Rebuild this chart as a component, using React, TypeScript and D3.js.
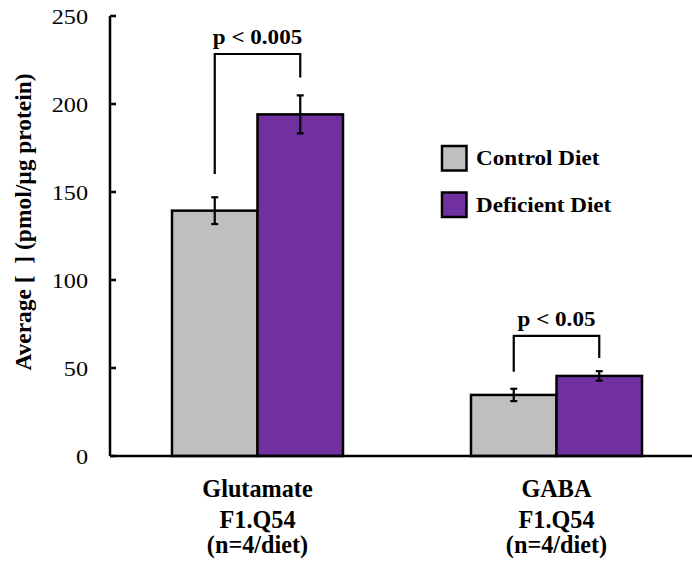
import React from "react";
import * as d3 from "d3";

// Amino-acid groups shown on the x axis
const categories = ["Glutamate", "GABA"];
const categorySub1 = ["F1.Q54", "F1.Q54"];
const categorySub2 = ["(n=4/diet)", "(n=4/diet)"];

// Series: mean concentration and its error (pmol/µg protein)
const seriesNames = ["Control Diet", "Deficient Diet"];
const seriesColors = ["#bfbfbf", "#7030a0"];
const controlMeans = [139.4, 34.7];
const controlErrors = [7.6, 3.5];
const deficientMeans = [194.1, 45.5];
const deficientErrors = [10.8, 2.7];

// Significance brackets: label, bar level, left/right leg ends (data units)
const sigLabels = ["p < 0.005", "p < 0.05"];
const sigTop = [228.4, 68.2];
const sigLeftEnd = [160.2, 47.9];
const sigRightEnd = [215, 55.7];

const yTicks = [0, 50, 100, 150, 200, 250];

const W = 692;
const H = 563;
const FONT = "Liberation Serif, Times New Roman, serif";

function T({ x, y, children, size = 21, weight = "bold", anchor = "middle", rotate = 0, sx = 1.1 }: any) {
  return (
    <text
      transform={`translate(${x},${y}) rotate(${rotate}) scale(${sx},1)`}
      style={{ fontFamily: FONT, fontSize: size, fontWeight: weight, whiteSpace: "pre" }}
      textAnchor={anchor}
      fill="#000"
    >
      {children}
    </text>
  );
}

export default function App() {
  const x = d3.scaleBand<string>().domain(categories).range([108, 706]).padding(0);
  const y = d3.scaleLinear().domain([0, 250]).range([456, 16]);
  const barW = 85.5;
  const axisX = 110;

  const series = [
    { means: controlMeans, errs: controlErrors, color: seriesColors[0], off: -barW },
    { means: deficientMeans, errs: deficientErrors, color: seriesColors[1], off: 0 },
  ];

  return (
    <svg width={W} height={H} style={{ position: "absolute", left: 0, top: 0, background: "#fff" }}>
      {/* bars */}
      {series.map((s, si) =>
        categories.map((c, i) => {
          const cx = (x(c) as number) + x.bandwidth() / 2;
          const bx = cx + s.off;
          return (
            <rect
              key={`b${si}-${i}`}
              x={bx}
              y={y(s.means[i])}
              width={barW}
              height={y(0) - y(s.means[i])}
              fill={s.color}
              stroke="#000"
              strokeWidth={2.5}
            />
          );
        })
      )}
      {/* error bars */}
      {series.map((s, si) =>
        categories.map((c, i) => {
          const cx = (x(c) as number) + x.bandwidth() / 2 + s.off + barW / 2;
          const hi = y(s.means[i] + s.errs[i]);
          const lo = y(s.means[i] - s.errs[i]);
          const cap = 3.5;
          return (
            <g key={`e${si}-${i}`} stroke="#000" strokeWidth={2.2}>
              <line x1={cx} x2={cx} y1={hi} y2={lo} />
              <line x1={cx - cap} x2={cx + cap} y1={hi} y2={hi} />
              <line x1={cx - cap} x2={cx + cap} y1={lo} y2={lo} />
            </g>
          );
        })
      )}
      {/* axes */}
      <line x1={axisX} x2={692} y1={y(0)} y2={y(0)} stroke="#000" strokeWidth={2.5} />
      <line x1={axisX} x2={axisX} y1={y(250)} y2={y(0)} stroke="#000" strokeWidth={2.5} />
      {yTicks.map((t) => (
        <g key={`t${t}`}>
          <line x1={axisX} x2={axisX + 6} y1={y(t)} y2={y(t)} stroke="#000" strokeWidth={2.5} />
          <T x={88} y={y(t) + 7.5} size={22} weight="normal" anchor="end">
            {t}
          </T>
        </g>
      ))}
      <T x={30.5} y={222} size={23} sx={1.02} rotate={-90}>
        {"Average [\u00a0\u00a0] (pmol/µg protein)"}
      </T>
      {/* category labels */}
      {categories.map((c, i) => {
        const cx = (x(c) as number) + x.bandwidth() / 2;
        return (
          <g key={`c${i}`}>
            <T x={cx} y={497} size={25} sx={0.97}>{c}</T>
            <T x={cx} y={528} size={25} sx={0.97}>{categorySub1[i]}</T>
            <T x={cx} y={553} size={25} sx={0.97}>{categorySub2[i]}</T>
          </g>
        );
      })}
      {/* significance brackets */}
      {categories.map((c, i) => {
        const cx = (x(c) as number) + x.bandwidth() / 2;
        const lx = cx - barW / 2;
        const rx = cx + barW / 2;
        return (
          <g key={`s${i}`}>
            <path
              d={`M${lx},${y(sigLeftEnd[i])}V${y(sigTop[i])}H${rx}V${y(sigRightEnd[i])}`}
              fill="none"
              stroke="#000"
              strokeWidth={2.2}
            />
            <T x={cx} y={y(sigTop[i]) - 10}>{sigLabels[i]}</T>
          </g>
        );
      })}
      {/* legend */}
      {seriesNames.map((n, i) => (
        <g key={`l${i}`}>
          <rect
            x={442}
            y={146 + i * 46.5}
            width={24.5}
            height={24.5}
            fill={seriesColors[i]}
            stroke="#000"
            strokeWidth={2.5}
          />
          <T x={476} y={165 + i * 46.5} anchor="start">
            {n}
          </T>
        </g>
      ))}
    </svg>
  );
}
